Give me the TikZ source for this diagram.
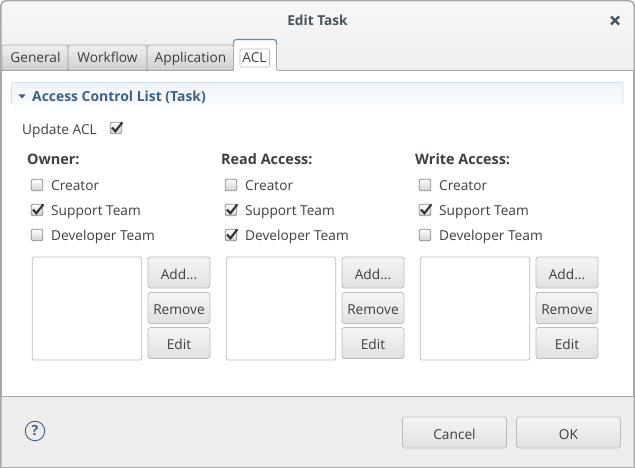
\documentclass[tikz,border=0pt]{standalone}
\usepackage{fontspec}
\setmainfont{Open Sans}
\usetikzlibrary{shapes.geometric}
\definecolor{frameg}{HTML}{A8A8A8}
\definecolor{txt}{HTML}{3C4043}
\definecolor{titlet}{HTML}{46535C}
\definecolor{blueh}{HTML}{3F5F88}
\definecolor{footg}{HTML}{EDEDED}
\definecolor{btnb}{HTML}{BDBDBD}
\definecolor{focusb}{HTML}{4A90D9}
\definecolor{secb}{HTML}{CFE0F2}
\definecolor{sect}{HTML}{EEF3FB}
\newcommand{\fs}{\fontsize{13.7}{15}\selectfont}
\tikzset{
 x=1pt,y=-1pt,
 lbl/.style={font=\fs,text=txt,inner sep=0pt,anchor=west,text height=11pt,text depth=0pt},
 boldlbl/.style={font=\fontsize{14.4}{15}\selectfont\bfseries,text=txt,inner sep=0pt,anchor=west,text height=11pt,text depth=0pt},
 btn/.style={draw=btnb,rounded corners=2.5pt,top color=white!96!black,bottom color=black!12,line width=0.8pt,
   font=\fs,text=txt,inner sep=0pt,text height=13pt,text depth=0pt},
 tabbox/.style={draw=frameg,top color=black!6,bottom color=black!19,line width=0.8pt,rounded corners=1.5pt},
 tablbl/.style={font=\fs,text=txt,inner sep=0pt,text height=11pt,text depth=0pt},
 chk/.style={draw=black!45,rounded corners=2pt,top color=white,bottom color=black!18,line width=0.8pt,minimum size=11.5pt,inner sep=0pt},
 tick/.style={line width=2.1pt,draw=black!80,line join=miter}
}
\newcommand{\tickat}[1]{\draw[tick] ([shift={(-4,-0.5)}]#1.center) -- ++(3.4,3.8) -- ++(7,-9);}
\newcommand{\column}[6]{%
 \begin{scope}[xshift=#2pt]
 \node[boldlbl] (t#1) at (27,159.5) {#3};
 \node[chk] (ca#1) at (37,185) {}; \node[lbl] (la#1) at (51,185) {Creator};
 \node[chk] (cb#1) at (37,210) {}; \node[lbl] (lb#1) at (51,210) {Support Team};
 \node[chk] (cc#1) at (37,235) {}; \node[lbl] (lc#1) at (51,235) {Developer Team};
 #4 #5 #6
 \node[draw=btnb,fill=white,rounded corners=1.5pt,line width=0.8pt,minimum width=109.5pt,minimum height=103pt,inner sep=0pt] (list#1) at (87,308.5) {};
 \node[btn,minimum width=62pt,minimum height=31pt] (add#1) at (179,272.5) {Add...};
 \node[btn,minimum width=62pt,minimum height=31pt] (rem#1) at (179,308) {Remove};
 \node[btn,minimum width=62pt,minimum height=31pt] (edit#1) at (179,343) {Edit};
 \end{scope}}
\begin{document}
\begin{tikzpicture}
\useasboundingbox (0,0) rectangle (635,468);
% window
\fill[white] (0,0) rectangle (635,468);
\fill[top color=white!97!black,bottom color=footg,rounded corners=5pt] (1,1) rectangle (634,80);
\fill[white] (2,70) rectangle (633,397);
\fill[footg] (1,397) rectangle (634,467);
\draw[frameg,line width=1.5pt,rounded corners=5pt] (0.75,475) -- (0.75,0.75) -- (634.25,0.75) -- (634.25,475);
\draw[frameg,line width=1pt] (0,467.5) -- (635,467.5);
\draw[frameg,line width=1pt] (0,396.5) -- (635,396.5);
\draw[frameg,line width=1pt] (1,70.5) -- (234,70.5) (276,70.5) -- (634,70.5);
\fill[frameg] (0,70) rectangle (2,397);
\fill[frameg] (633,70) rectangle (635,397);
\node[font=\fontsize{13.7}{15}\selectfont\bfseries,text=titlet,inner sep=0pt,text height=11pt,text depth=0pt] (title) at (317.5,20.5) {Edit Task};
\draw[titlet,line width=2.4pt] (611,16.5) -- (619,24.5) (619,16.5) -- (611,24.5);
% tabs
\path[tabbox] (2,45) rectangle (68,70.5);
\path[tabbox] (68,45) rectangle (147,70.5);
\path[tabbox] (147,45) rectangle (233.5,70.5);
\node[tablbl] (tg) at (35.5,57.5) {General};
\node[tablbl] (tw) at (107.5,57.5) {Workflow};
\node[tablbl] (ta) at (190.5,57.5) {Application};
\fill[white,rounded corners=3pt] (233.5,75) -- (233.5,39.5) -- (276.5,39.5) -- (276.5,75);
\fill[white] (233.5,69) rectangle (276.5,71.5);
\draw[frameg,line width=0.8pt] (233.5,70.5) -- (233.5,43) (276.5,43) -- (276.5,70.5);
\draw[focusb,line width=1.1pt,rounded corners=3pt] (233.5,44) -- (233.5,39.5) -- (276.5,39.5) -- (276.5,44);
\draw[btnb,rounded corners=1pt,line width=0.6pt] (240,49) rectangle (269.5,67);
\node[tablbl] (tc) at (254.5,57.5) {ACL};
% section header
\fill[top color=sect,bottom color=white] (11.5,82.5) rectangle (623,114);
\draw[secb,line width=0.8pt,rounded corners=2.5pt] (11.5,114) -- (11.5,82.5) -- (623,82.5) -- (623,114);
\fill[white] (10,104) rectangle (12.5,116);
\fill[white] (622,104) rectangle (624.5,116);
\fill[blueh] (18.5,94.5) -- (25.5,94.5) -- (22,98.5) -- cycle;
\node[font=\fontsize{13.9}{15}\selectfont\bfseries,text=blueh,inner sep=0pt,anchor=west,text height=11pt,text depth=0pt] (sec) at (32,96.5) {Access Control List (Task)};
\node[lbl] (upd) at (22,129) {Update ACL};
\node[chk] (updc) at (116,128) {};
\tickat{updc}
\column{o}{0}{Owner:}{\tickat{cbo}}{}{}
\column{r}{194}{Read Access:}{\tickat{cbr}}{\tickat{ccr}}{}
\column{w}{388}{Write Access:}{\tickat{cbw}}{}{}
% footer
\node[circle,draw=blueh,line width=0.9pt,minimum size=19.5pt,inner sep=0pt,font=\fontsize{14}{15}\selectfont\bfseries,text=blueh] (help) at (35,431) {?};
\node[btn,minimum width=104pt,minimum height=31pt] (cancel) at (454.5,432.5) {Cancel};
\node[btn,minimum width=104pt,minimum height=31pt] (ok) at (568.5,432.5) {OK};
\end{tikzpicture}
\end{document}
